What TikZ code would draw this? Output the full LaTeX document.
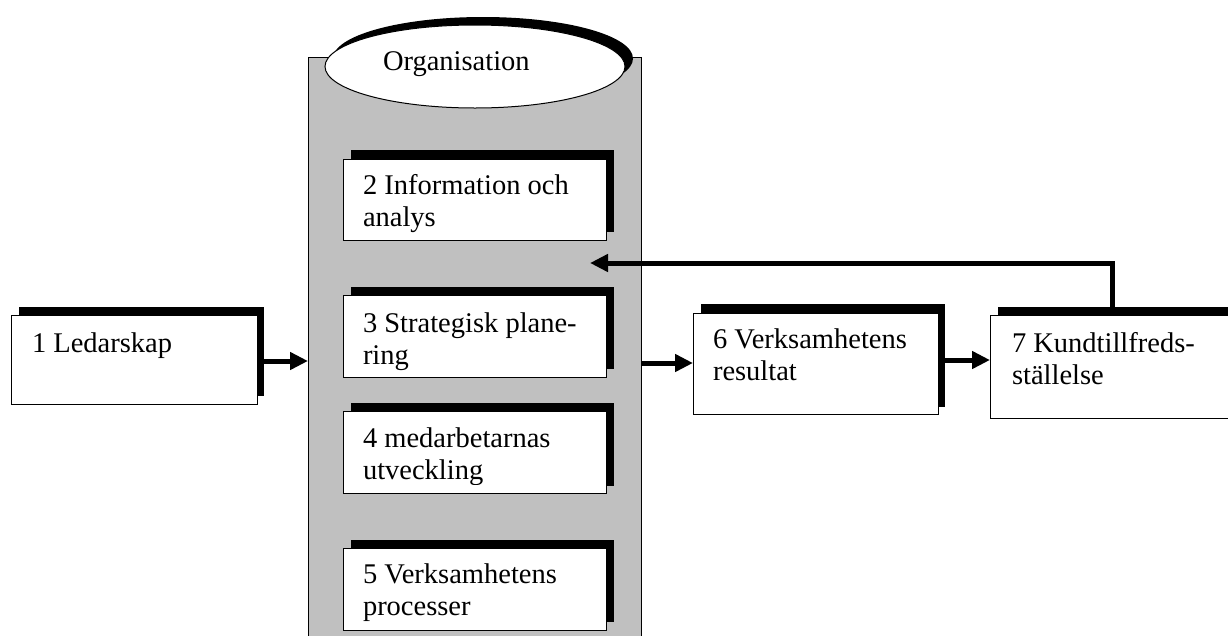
\documentclass[tikz,border=0pt]{standalone}
\usepackage{fontspec}
\setmainfont{Liberation Serif}
\usetikzlibrary{arrows.meta,shapes.geometric}
\definecolor{orggray}{RGB}{192,192,192}
\begin{document}
\begin{tikzpicture}[x=1pt,y=-1pt,
  whitebox/.style={draw=black, line width=1pt, fill=white, inner sep=0pt, outer sep=0pt, anchor=north west},
  shadowbox/.style={fill=black, draw=none, inner sep=0pt, outer sep=0pt, anchor=north west},
  txt/.style={inner sep=0pt, outer sep=0pt, anchor=base west, align=left, font=\fontsize{28.5}{32}\selectfont},
  arr/.style={line width=5pt, -{Triangle[length=18pt,width=17pt]}},
]
\useasboundingbox (0,0) rectangle (1228,635);
\clip (0,0) rectangle (1228,635);

% organisation column
\node[draw=black, line width=1pt, fill=orggray, inner sep=0pt, outer sep=0pt, anchor=north west,
      minimum width=333pt, minimum height=600pt] (org) at (308,57) {};
\node[ellipse, fill=black, inner sep=0pt, minimum width=300pt, minimum height=83pt] (orgsh) at (483,58.5) {};
\node[ellipse, draw=black, line width=1pt, fill=white, inner sep=0pt, minimum width=300pt, minimum height=83pt] (orgel) at (475,66.5) {};
\node[txt] (orgt) at (383,70) {Organisation};

% box 1
\node[shadowbox, minimum width=245pt, minimum height=89pt] (b1sh) at (19,307) {};
\node[whitebox, minimum width=246pt, minimum height=89pt] (b1) at (11,315) {};
\node[txt] (t1) at (32,352) {1 Ledarskap};

% box 2
\node[shadowbox, minimum width=263pt, minimum height=82pt] (b2sh) at (351,150) {};
\node[whitebox, minimum width=263pt, minimum height=81pt] (b2) at (343,159) {};
\begin{scope}
\clip (343,159) rectangle (606,233);
\node[txt] (t2) at (363,226) {2 Information och\\analys};
\end{scope}

% box 3
\node[shadowbox, minimum width=263pt, minimum height=82pt] (b3sh) at (351,287) {};
\node[whitebox, minimum width=263pt, minimum height=82pt] (b3) at (343,295) {};
\begin{scope}
\clip (343,295) rectangle (606,370);
\node[txt] (t3) at (363,364) {3 Strategisk plane-\\ring};
\end{scope}

% box 4
\node[shadowbox, minimum width=263pt, minimum height=83pt] (b4sh) at (351,403) {};
\node[whitebox, minimum width=263pt, minimum height=82pt] (b4) at (343,411) {};
\begin{scope}
\clip (343,411) rectangle (606,484);
\node[txt] (t4) at (363,479) {4 medarbetarnas\\utveckling};
\end{scope}

% box 5
\node[shadowbox, minimum width=263pt, minimum height=82pt] (b5sh) at (351,540) {};
\node[whitebox, minimum width=263pt, minimum height=82pt] (b5) at (343,548) {};
\begin{scope}
\clip (343,548) rectangle (606,626);
\node[txt] (t5) at (363,615) {5 Verksamhetens\\processer};
\end{scope}

% box 6
\node[shadowbox, minimum width=244pt, minimum height=103pt] (b6sh) at (701,304) {};
\node[whitebox, minimum width=245pt, minimum height=101pt] (b6) at (693,313) {};
\node[txt] (t6) at (713,380) {6 Verksamhetens\\resultat};

% box 7
\node[shadowbox, minimum width=260pt, minimum height=103pt] (b7sh) at (998,307) {};
\node[whitebox, minimum width=260pt, minimum height=103pt] (b7) at (990,315) {};
\node[txt] (t7) at (1012,384) {7 Kundtillfreds-\\ställelse};

% arrows
\draw[arr] (b1sh.east |- 0,361) -- (org.west |- 0,361);
\draw[arr] (org.east |- 0,363) -- (b6.west |- 0,363);
\draw[arr] (b6sh.east |- 0,360) -- (b7.west |- 0,360);
\coordinate (fbcorner) at (1112,263);
\coordinate (fbend) at (590,263);
\draw[arr] (b7sh.north -| fbcorner) -- (fbcorner) -- (fbend);
\end{tikzpicture}
\end{document}
